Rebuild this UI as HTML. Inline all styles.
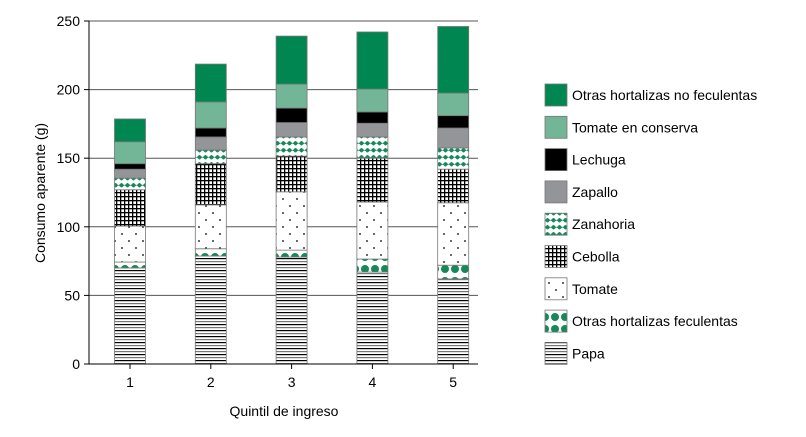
<!DOCTYPE html>
<html><head><meta charset="utf-8"><style>
body{margin:0;background:#fff;}
svg{display:block;font-family:"Liberation Sans",sans-serif;}
</style></head><body>
<svg width="806" height="437" xmlns="http://www.w3.org/2000/svg">
<defs>
<pattern id="p-papa" width="6" height="6" patternUnits="userSpaceOnUse"><rect width="6" height="6" fill="#fff"/><rect y="0" width="6" height="1.2" fill="#000"/><rect y="3" width="6" height="1.2" fill="#777"/></pattern>
<pattern id="p-fec" width="10" height="12" patternUnits="userSpaceOnUse"><rect width="10" height="12" fill="#fff"/><circle cx="5" cy="5" r="4" fill="#17885a"/></pattern>
<pattern id="p-tom" width="14" height="14" patternUnits="userSpaceOnUse"><rect width="14" height="14" fill="#fff"/><circle cx="3" cy="3" r="0.9" fill="#000"/><circle cx="10" cy="10" r="0.9" fill="#000"/></pattern>
<pattern id="p-ceb" width="4" height="4" patternUnits="userSpaceOnUse"><rect width="4" height="4" fill="#fff"/><rect width="1.3" height="4" fill="#000"/><rect width="4" height="1.3" fill="#000"/></pattern>
<pattern id="p-zan" width="6" height="7" patternUnits="userSpaceOnUse"><rect width="6" height="7" fill="#fff"/><path d="M0 2 Q1.5 0 3 2 T6 2 L6 4.5 Q4.5 2.5 3 4.5 T0 4.5Z" fill="#17885a"/></pattern>
</defs>
<g id="grid"></g>
<g id="bars"></g>
<g id="yaxis"></g>
<g id="xaxis"></g>
<text transform="translate(45,193) rotate(-90)" text-anchor="middle" font-size="14">Consumo aparente (g)</text>
<text x="284" y="416" text-anchor="middle" font-size="14">Quintil de ingreso</text>
<g id="legend"></g>
</svg>
<script>
const categories = ["1","2","3","4","5"];
const seriesNames = ["Papa","Otras hortalizas feculentas","Tomate","Cebolla","Zanahoria","Zapallo","Lechuga","Tomate en conserva","Otras hortalizas no feculentas"];
const papa = [70,78.7,78,67,62];
const otrasFeculentas = [4.3,5.3,5,9.5,10];
const tomate = [26.2,32,42.5,41.5,45.5];
const cebolla = [26.5,30,26,32,24.5];
const zanahoria = [8.5,10,14,15.5,15.5];
const zapallo = [6.5,9.5,10.5,10,14.5];
const lechuga = [4,6.5,10.5,8.2,9];
const tomateConserva = [16,19,17.5,16.7,16.5];
const otrasNoFeculentas = [16.6,27.6,35,41.6,48.5];
const yTicks = [0,50,100,150,200,250];
const series = [papa,otrasFeculentas,tomate,cebolla,zanahoria,zapallo,lechuga,tomateConserva,otrasNoFeculentas];
const fills = ["url(#p-papa)","url(#p-fec)","url(#p-tom)","url(#p-ceb)","url(#p-zan)","#939598","#000","#72b597","#008751"];
const NS="http://www.w3.org/2000/svg";
const y0=364, yTop=21, vMax=250, xL=89, xR=478;
const y=v=>y0-(v/vMax)*(y0-yTop);
const xC=i=>130+i*80.8;
const bw=31;
function mk(t,a,p){const e=document.createElementNS(NS,t);for(const k in a)e.setAttribute(k,a[k]);p.appendChild(e);return e;}
const grid=document.getElementById('grid'),ya=document.getElementById('yaxis'),xa=document.getElementById('xaxis'),bars=document.getElementById('bars'),lg=document.getElementById('legend');
yTicks.forEach(t=>{
  if(t>0){const g=mk('line',{x1:xL,x2:xR,y1:y(t),y2:y(t),stroke:'#555','stroke-width':1},grid);
  
  }
  const tk=mk('line',{x1:xL-5,x2:xL,y1:y(t),y2:y(t),stroke:'#000'},ya);
  
  
  const tx=mk('text',{x:xL-9,y:y(t)+5,'text-anchor':'end','font-size':14},ya);tx.textContent=t;
  
  
});
const yl=mk('line',{x1:xL,x2:xL,y1:y0,y2:yTop,stroke:'#000'},ya);


const xl=mk('line',{x1:xL,x2:xR,y1:y0,y2:y0,stroke:'#000'},xa);


categories.forEach((c,i)=>{
  const tk=mk('line',{x1:xC(i),x2:xC(i),y1:y0,y2:y0+5,stroke:'#000'},xa);
  
  
  const tx=mk('text',{x:xC(i),y:y0+23,'text-anchor':'middle','font-size':14},xa);tx.textContent=c;
  
  
  let cum=0;
  series.forEach((s,k)=>{
    const v=s[i];const r=mk('rect',{x:xC(i)-bw/2,y:y(cum+v),width:bw,height:y(cum)-y(cum+v),fill:fills[k],stroke:'#777','stroke-width':0.8},bars);
    
    
    cum+=v;
  });
});
for(let k=seriesNames.length-1;k>=0;k--){
  const j=seriesNames.length-1-k, ty=84+j*32.3;
  const r=mk('rect',{x:545,y:ty,width:22,height:22,fill:fills[k],stroke:'#777','stroke-width':0.8},lg);
  
  
  const t=mk('text',{x:572,y:ty+16,'font-size':14},lg);t.textContent=seriesNames[k];
  
  
}
</script>
</body></html>
